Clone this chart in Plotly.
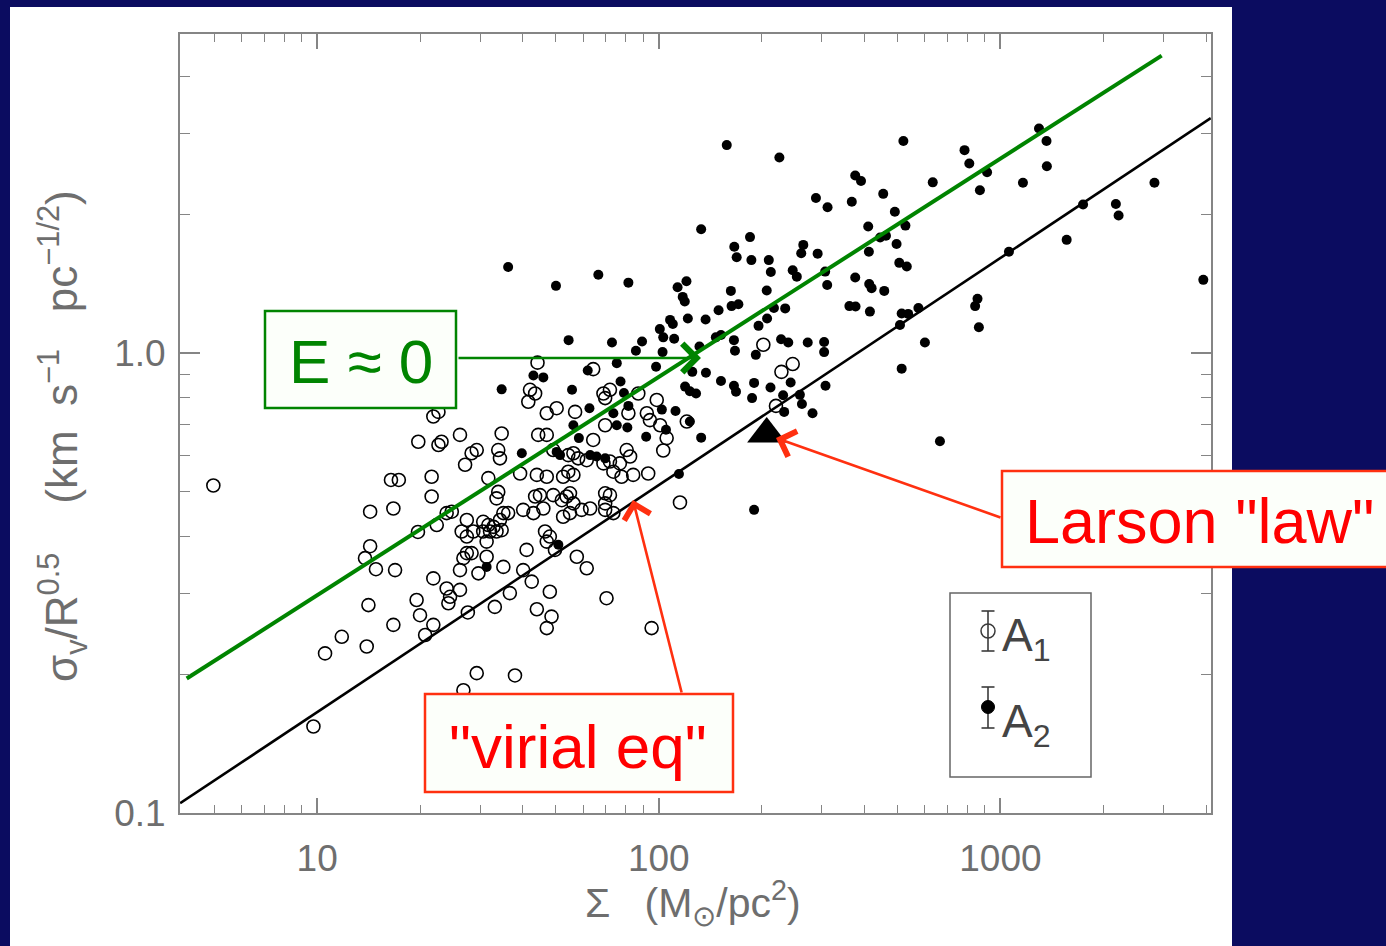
import numpy as np
import plotly.graph_objects as go

# ---------------- data (log10 values) ----------------
# A1 : open circles
A1_logSigma = [0.696,0.989,1.023,1.072,1.145,1.150,1.223,1.301,1.291,1.340,
1.316,1.384,1.379,1.418,1.389,1.340,1.441,1.520,1.564,1.467,
1.579,1.428,1.643,1.686,1.672,1.628,1.681,1.847,1.979,1.140,
1.155,1.172,1.228,1.155,1.223,1.216,1.239,1.295,1.335,1.335,
1.350,1.379,1.394,1.438,1.423,1.438,1.457,1.486,1.501,1.486,
1.506,1.516,1.535,1.545,1.559,1.525,1.540,1.496,1.438,1.428,
1.452,1.496,1.418,1.472,1.545,1.603,1.613,1.667,1.681,1.672,
1.696,1.720,1.740,1.760,1.789,1.340,1.355,1.418,1.296,1.355,
1.364,1.540,1.452,1.467,1.433,1.530,1.535,1.647,1.672,1.691,
1.735,1.750,1.808,1.764,1.789,1.838,1.857,1.867,1.891,1.735,
1.720,1.750,1.643,1.672,1.594,1.501,1.530,1.525,1.603,1.633,
1.662,1.638,1.652,1.691,1.716,1.730,1.740,1.750,1.774,1.799,
1.843,1.857,1.843,1.645,1.808,1.623,1.638,1.618,1.672,1.701,
1.755,1.838,1.857,1.843,1.843,1.911,1.940,1.965,1.974,2.004,
2.082,2.023,1.906,2.306,2.359,2.392,2.343,2.062,2.013,1.969,
1.925,1.916,1.886,1.994,1.843,1.867]
A1_logV = [-0.288,-0.812,-0.653,-0.617,-0.638,-0.548,-0.591,-0.570,-0.537,-0.591,
-0.613,-0.544,-0.512,-0.515,-0.530,-0.490,-0.564,-0.552,-0.522,-0.696,
-0.701,-0.733,-0.557,-0.573,-0.598,-0.497,-0.519,-0.533,-0.598,-0.446,
-0.420,-0.470,-0.472,-0.345,-0.338,-0.276,-0.276,-0.389,-0.269,-0.312,
-0.374,-0.348,-0.345,-0.363,-0.388,-0.399,-0.388,-0.367,-0.374,-0.388,
-0.388,-0.378,-0.363,-0.348,-0.348,-0.388,-0.385,-0.410,-0.435,-0.446,
-0.435,-0.443,-0.472,-0.479,-0.465,-0.472,-0.428,-0.388,-0.399,-0.410,
-0.428,-0.356,-0.348,-0.443,-0.468,-0.138,-0.128,-0.178,-0.193,-0.200,
-0.193,-0.175,-0.218,-0.211,-0.243,-0.211,-0.229,-0.178,-0.178,-0.211,
-0.222,-0.218,-0.189,-0.229,-0.233,-0.240,-0.236,-0.258,-0.269,-0.258,
-0.269,-0.265,-0.265,-0.269,-0.262,-0.272,-0.302,-0.316,-0.341,-0.348,
-0.338,-0.312,-0.309,-0.309,-0.320,-0.312,-0.305,-0.327,-0.341,-0.338,
-0.305,-0.309,-0.341,-0.021,-0.035,-0.080,-0.088,-0.106,-0.131,-0.120,
-0.128,-0.088,-0.080,-0.157,-0.098,-0.131,-0.088,-0.131,-0.146,-0.157,
-0.149,-0.185,-0.211,0.018,-0.041,-0.024,-0.115,-0.325,-0.212,-0.262,
-0.265,-0.225,-0.240,-0.102,-0.327,-0.348]

# A2 : filled dots
A2_logSigma = [2.199,2.353,2.124,2.267,2.221,2.228,2.271,2.322,2.328,1.823,
1.911,1.699,2.055,2.081,2.070,2.076,2.211,2.316,2.213,2.233,
2.175,2.337,2.370,2.317,2.292,2.085,2.137,2.033,2.041,2.003,
2.013,2.045,1.951,1.863,1.736,1.933,2.011,1.877,1.992,1.792,
2.098,2.138,2.182,2.167,2.220,2.223,2.119,2.358,2.379,2.436,
2.484,2.484,2.284,2.182,2.220,2.226,2.279,2.327,2.386,2.488,
2.273,2.364,2.413,2.419,2.450,2.367,2.077,2.091,2.109,1.746,
1.797,1.888,1.898,1.867,2.049,2.091,2.124,2.009,1.908,1.963,
2.021,1.766,
2.575,2.592,2.657,2.460,2.494,2.565,2.691,2.613,
2.648,2.665,2.696,2.615,2.423,2.417,2.465,2.392,2.404,2.487,
2.493,2.575,2.616,2.623,2.660,2.558,2.576,2.618,2.704,2.726,
2.716,2.722,2.802,2.895,2.909,2.961,2.940,3.066,3.113,3.135,
3.136,2.711,2.730,2.760,2.706,2.779,2.711,2.823,2.933,2.926,
2.937,3.025,3.194,3.242,3.338,3.346,3.451,3.594,2.279,1.559,
1.540,1.633,1.662,1.750,1.877,1.599,1.701,1.711,1.799,1.818,
1.843,1.496,1.706,2.059,1.911]
A2_logV = [0.452,0.425,0.269,0.252,0.231,0.208,0.202,0.202,0.176,0.170,
0.153,0.146,0.143,0.156,0.122,0.112,0.135,0.136,0.102,0.106,
0.093,0.098,0.097,0.075,0.059,0.075,0.073,0.072,0.063,0.052,
0.034,0.031,0.025,0.023,0.028,0.005,0.002,-0.022,-0.030,-0.038,
-0.041,-0.043,0.039,0.034,0.028,0.005,0.014,0.030,0.023,0.023,
0.024,0.002,-0.004,-0.061,-0.071,-0.084,-0.065,-0.075,-0.064,-0.071,
-0.098,-0.092,-0.091,-0.111,-0.131,-0.128,-0.073,-0.083,-0.088,-0.080,
-0.120,-0.062,-0.087,-0.131,-0.126,-0.149,-0.184,-0.123,-0.162,-0.182,
-0.167,-0.185,
0.386,0.374,0.346,0.337,0.317,0.329,0.307,0.275,
0.251,0.255,0.237,0.220,0.235,0.217,0.216,0.180,0.166,0.177,
0.148,0.164,0.150,0.141,0.135,0.102,0.101,0.090,0.196,0.188,
0.461,0.277,0.371,0.441,0.412,0.393,0.354,0.370,0.488,0.461,
0.406,0.086,0.085,0.098,0.061,0.023,-0.034,-0.192,0.118,0.102,
0.056,0.220,0.246,0.323,0.324,0.299,0.370,0.159,-0.341,0.187,
-0.079,-0.049,-0.053,-0.157,-0.157,-0.218,-0.215,-0.222,-0.222,-0.225,
-0.229,-0.465,-0.417,-0.263,-0.115]

# Larson "law" point
larson_sigma = [207.0]
larson_v = [0.667]

# "virial eq" line and E~0 line (end points)
virial_sigma = [3.97, 4128.0]
virial_v = [0.105, 3.24]
e0_sigma = [4.15, 2965.0]
e0_v = [0.196, 4.43]

# axis ticks
x_tickvals = [10, 100, 1000]
x_ticktext = ["10", "100", "1000"]
x_minor = [5, 6, 7, 8, 9, 20, 30, 40, 50, 60, 70, 80, 90,
           200, 300, 400, 500, 600, 700, 800, 900, 2000, 3000, 4000]
y_tickvals = [0.1, 1.0]
y_ticktext = ["0.1", "1.0"]
y_minor = [0.2, 0.3, 0.4, 0.5, 0.6, 0.7, 0.8, 0.9, 2, 3, 4]

# ---------------- layout geometry ----------------
W, H = 1386, 946
PL, PR, PT, PB = 180, 1211, 34, 813


def fx(px):
    return (px - PL) / (PR - PL)


def fy(py):
    return (PB - py) / (PB - PT)


NAVY = "#0b0c60"
GREEN = "#008400"
RED = "#ff0000"
RED_BOX = "#ff3010"
GREY = "#6e6e6e"
AXC = "#858585"
FONT = "Liberation Sans, Arial, sans-serif"

fig = go.Figure()

fig.add_trace(go.Scatter(
    x=np.power(10.0, A1_logSigma), y=np.power(10.0, A1_logV), mode="markers",
    marker=dict(symbol="circle-open", size=13, color="black",
                line=dict(width=1.6, color="black")),
    showlegend=False, hoverinfo="skip"))
fig.add_trace(go.Scatter(
    x=np.power(10.0, A2_logSigma), y=np.power(10.0, A2_logV), mode="markers",
    marker=dict(symbol="circle", size=10, color="black", line=dict(width=0)),
    showlegend=False, hoverinfo="skip"))
fig.add_trace(go.Scatter(
    x=virial_sigma, y=virial_v, mode="lines",
    line=dict(color="black", width=2.6), showlegend=False, hoverinfo="skip"))
fig.add_trace(go.Scatter(
    x=e0_sigma, y=e0_v, mode="lines",
    line=dict(color=GREEN, width=4), showlegend=False, hoverinfo="skip"))
fig.add_trace(go.Scatter(
    x=larson_sigma, y=larson_v, mode="markers",
    marker=dict(symbol="triangle-up", size=34, color="black", line=dict(width=0)),
    showlegend=False, hoverinfo="skip"))

shapes = []
# white panel
shapes.append(dict(type="rect", xref="paper", yref="paper",
                   x0=fx(10), x1=fx(1232), y0=fy(960), y1=fy(7),
                   fillcolor="white", line=dict(width=0), layer="below"))
# annotation boxes
BOXBG = "#fcfffa"
shapes.append(dict(type="rect", xref="paper", yref="paper",
                   x0=fx(265), x1=fx(456), y0=fy(408), y1=fy(311),
                   fillcolor=BOXBG, line=dict(color=GREEN, width=2.5), layer="above"))
shapes.append(dict(type="rect", xref="paper", yref="paper",
                   x0=fx(425), x1=fx(733), y0=fy(792), y1=fy(694),
                   fillcolor=BOXBG, line=dict(color=RED_BOX, width=2.5), layer="above"))
shapes.append(dict(type="rect", xref="paper", yref="paper",
                   x0=fx(1002), x1=fx(1400), y0=fy(567), y1=fy(471),
                   fillcolor=BOXBG, line=dict(color=RED_BOX, width=2.5), layer="above"))
# in-plot key
KEYC = "#3a3a3a"
shapes.append(dict(type="rect", xref="paper", yref="paper",
                   x0=fx(950), x1=fx(1091), y0=fy(777), y1=fy(593),
                   line=dict(color="#666666", width=1.5), layer="above"))
for (yt, yb) in [(611, 651), (687, 728)]:
    shapes.append(dict(type="line", xref="paper", yref="paper",
                       x0=fx(988), x1=fx(988), y0=fy(yb), y1=fy(yt),
                       line=dict(color=KEYC, width=1.6)))
    for yy in (yt, yb):
        shapes.append(dict(type="line", xref="paper", yref="paper",
                           x0=fx(981.5), x1=fx(994.5), y0=fy(yy), y1=fy(yy),
                           line=dict(color=KEYC, width=1.6)))
shapes.append(dict(type="circle", xref="paper", yref="paper",
                   x0=fx(981), x1=fx(995), y0=fy(638), y1=fy(624),
                   line=dict(color=KEYC, width=1.5)))
shapes.append(dict(type="circle", xref="paper", yref="paper",
                   x0=fx(981.5), x1=fx(994.5), y0=fy(713.5), y1=fy(700.5),
                   fillcolor="black", line=dict(color="black", width=1)))

annotations = []
C = dict(xref="paper", yref="paper", xanchor="center", yanchor="middle", showarrow=False)
# box texts
annotations.append(dict(text="E ≈ 0", x=fx(360.5), y=fy(361),
                        font=dict(family=FONT, size=62, color=GREEN), **C))
annotations.append(dict(text="\"virial eq\"", x=fx(578), y=fy(746),
                        font=dict(family=FONT, size=62, color=RED), **C))
annotations.append(dict(text="Larson \"law\"", x=fx(1199), y=fy(521),
                        font=dict(family=FONT, size=63, color=RED), **C))
# arrows
annotations.append(dict(text="", xref="paper", yref="paper", x=fx(701), y=fy(358),
                        ax=-244, ay=0, showarrow=True, arrowhead=4, arrowsize=2.3,
                        arrowwidth=2.4, arrowcolor=GREEN))
annotations.append(dict(text="", xref="paper", yref="paper", x=fx(633), y=fy(500),
                        ax=49, ay=194, showarrow=True, arrowhead=4, arrowsize=2.0,
                        arrowwidth=2.6, arrowcolor=RED_BOX))
annotations.append(dict(text="", xref="paper", yref="paper", x=fx(776), y=fy(438),
                        ax=226, ay=80, showarrow=True, arrowhead=4, arrowsize=2.0,
                        arrowwidth=2.6, arrowcolor=RED_BOX))
# key labels
annotations.append(dict(text="A<sub>1</sub>", xref="paper", yref="paper",
                        x=fx(1000), y=fy(638), xanchor="left", yanchor="middle",
                        showarrow=False, font=dict(family=FONT, size=46, color="#444444")))
annotations.append(dict(text="A<sub>2</sub>", xref="paper", yref="paper",
                        x=fx(1000), y=fy(724), xanchor="left", yanchor="middle",
                        showarrow=False, font=dict(family=FONT, size=46, color="#444444")))
# axis titles
annotations.append(dict(text="Σ   (M<sub>⊙</sub>/pc<sup>2</sup>)", x=fx(693), y=fy(903),
                        font=dict(family=FONT, size=41, color=GREY), **C))
annotations.append(dict(text="σ<sub>v</sub>/R<sup>0.5</sup>    (km  s<sup>−1</sup>   pc<sup>−1/2</sup>)",
                        x=fx(62), y=fy(436), textangle=-90,
                        font=dict(family=FONT, size=44, color=GREY), **C))

axis_common = dict(
    showline=True, linecolor=AXC, linewidth=2, mirror="allticks",
    ticks="inside", tickcolor=AXC, tickwidth=1.6,
    showgrid=False, zeroline=False,
    tickfont=dict(family=FONT, size=37, color=GREY),
)

fig.update_layout(
    width=W, height=H, autosize=False,
    margin=dict(l=PL, r=W - PR, t=PT, b=H - PB, pad=0),
    paper_bgcolor=NAVY, plot_bgcolor="white",
    shapes=shapes, annotations=annotations, showlegend=False,
    xaxis=dict(type="log", range=[0.5984, 3.6165], tickvals=x_tickvals, ticktext=x_ticktext,
               ticklen=15, ticklabelstandoff=12,
               minor=dict(tickvals=x_minor, ticks="inside", ticklen=8, tickcolor=AXC,
                          tickwidth=1.4, showgrid=False),
               **axis_common),
    yaxis=dict(type="log", range=[-1.0, 0.6935], tickvals=y_tickvals, ticktext=y_ticktext,
               ticklen=20, ticklabelstandoff=5,
               minor=dict(tickvals=y_minor, ticks="inside", ticklen=10, tickcolor=AXC,
                          tickwidth=1.4, showgrid=False),
               **axis_common),
)

fig.write_html("out.html")
